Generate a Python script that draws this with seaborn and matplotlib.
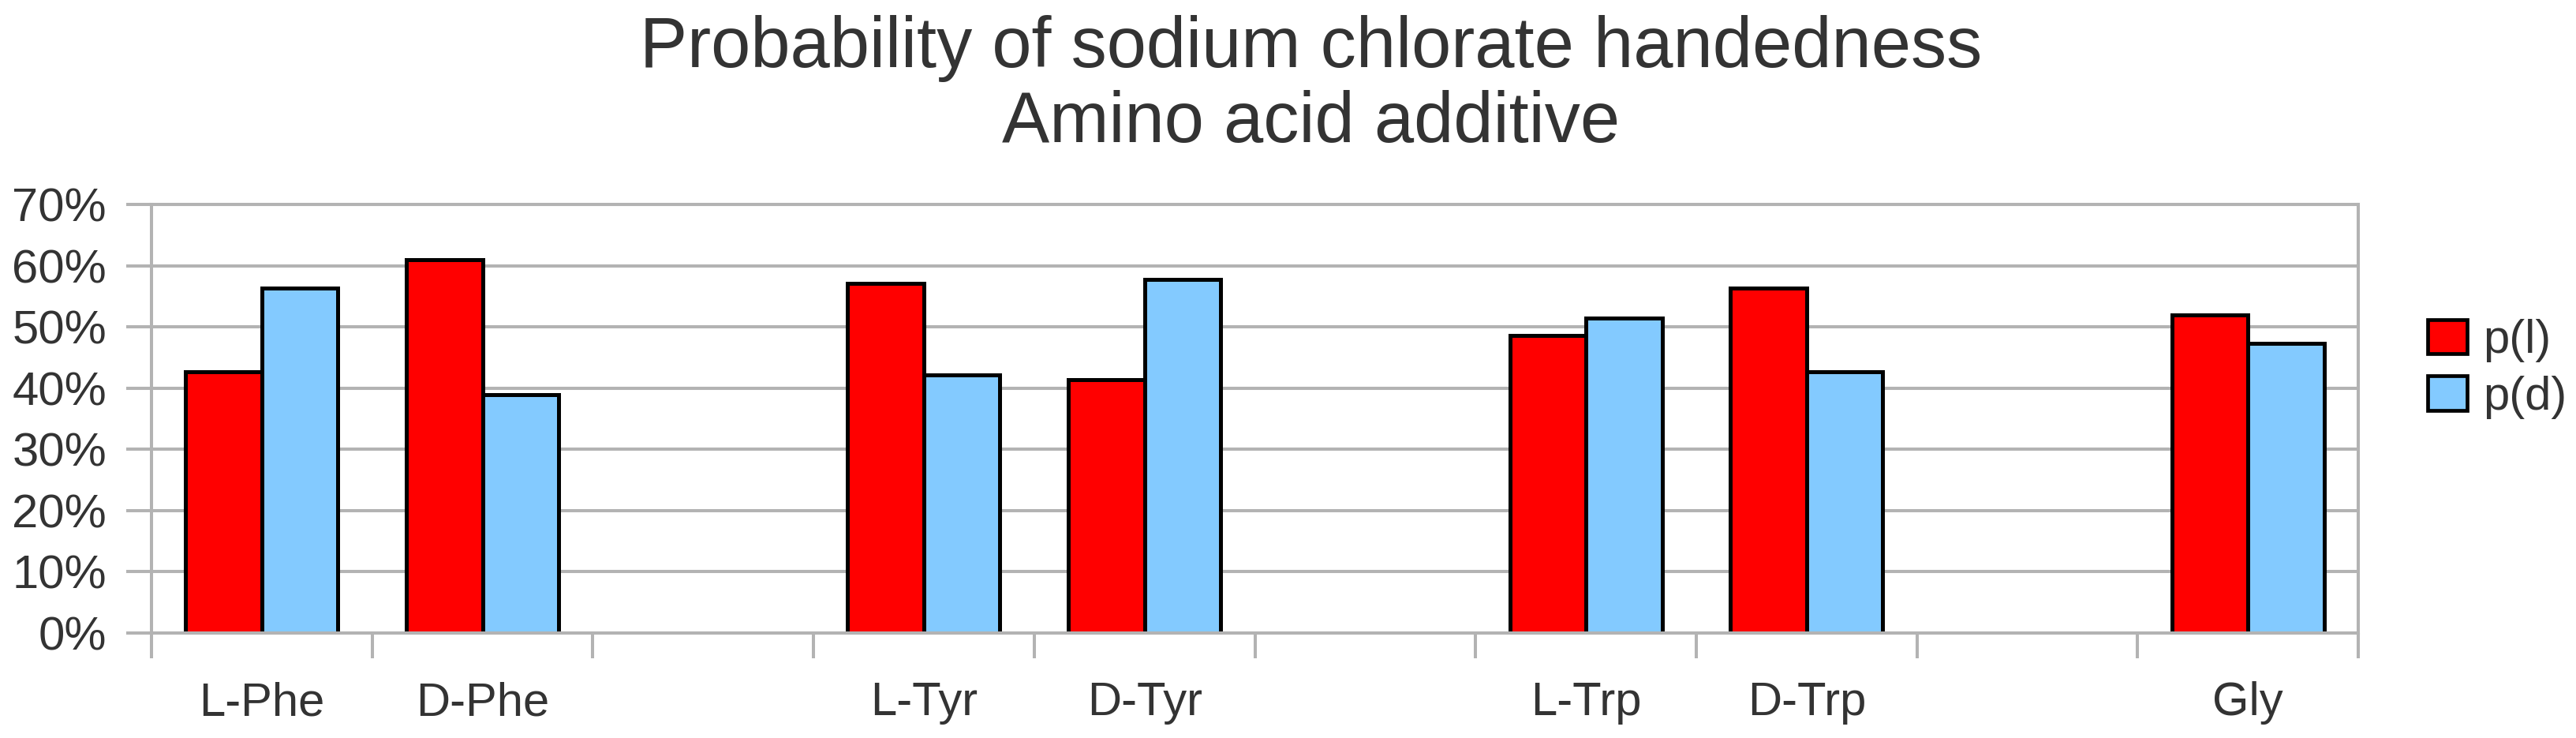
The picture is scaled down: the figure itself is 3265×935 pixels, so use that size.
import matplotlib
matplotlib.use("Agg")
import matplotlib.pyplot as plt
import seaborn as sns
import pandas as pd
import numpy as np
from matplotlib.patches import Patch
from matplotlib.ticker import FixedLocator, FixedFormatter, NullFormatter

# ---- data ----
categories = ["L-Phe", "D-Phe", "L-Tyr", "D-Tyr", "L-Trp", "D-Trp", "Gly"]
slot_order = ["L-Phe", "D-Phe", " ", "L-Tyr", "D-Tyr", "  ", "L-Trp", "D-Trp", "   ", "Gly"]
p_l = [0.427, 0.610, 0.571, 0.414, 0.486, 0.564, 0.519]
p_d = [0.564, 0.389, 0.422, 0.577, 0.514, 0.427, 0.473]
series = ["p(l)", "p(d)"]
colors = ["#FF0000", "#83CAFF"]
y_ticks = [0.0, 0.1, 0.2, 0.3, 0.4, 0.5, 0.6, 0.7]
y_labels = ["0%", "10%", "20%", "30%", "40%", "50%", "60%", "70%"]
title = "Probability of sodium chlorate handedness\nAmino acid additive"

df = pd.DataFrame({
    "additive": categories * 2,
    "series": [series[0]] * len(categories) + [series[1]] * len(categories),
    "p": p_l + p_d,
})

sns.set_theme(style="white")
plt.rcParams["font.family"] = ["Liberation Sans", "DejaVu Sans"]
text_color = "#333333"
grid_color = "#b3b3b3"

fig = plt.figure(figsize=(32.65, 9.35), dpi=100)
ax = fig.add_axes([0.0588, 0.1422, 0.8567, 0.5808])
ax.set_axisbelow(True)

sns.barplot(data=df, x="additive", y="p", hue="series", order=slot_order,
            hue_order=series, palette=colors, width=0.69, gap=0,
            edgecolor="black", linewidth=3.6, saturation=1, legend=False,
            dodge=True, ax=ax)

ax.set_xlim(-0.5, len(slot_order) - 0.5)
ax.set_ylim(0, 0.7)
ax.set_xlabel("")
ax.set_ylabel("")

# y axis
ax.set_yticks(y_ticks)
ax.set_yticklabels(y_labels)
ax.yaxis.grid(True, color=grid_color, linewidth=2.9)
ax.xaxis.grid(False)

# x axis: boundary ticks (major) + centred labels (minor)
centers = [i for i, s in enumerate(slot_order) if s.strip()]
ax.xaxis.set_major_locator(FixedLocator(np.arange(-0.5, len(slot_order), 1.0)))
ax.xaxis.set_major_formatter(NullFormatter())
ax.xaxis.set_minor_locator(FixedLocator(centers))
ax.xaxis.set_minor_formatter(FixedFormatter([slot_order[i] for i in centers]))

ax.tick_params(axis="both", which="major", direction="out", length=23,
               width=2.9, color=grid_color, labelsize=43, labelcolor=text_color)
ax.tick_params(axis="y", which="major", pad=18, left=True)
ax.tick_params(axis="x", which="major", bottom=True)
ax.tick_params(axis="x", which="minor", length=0, pad=44, labelsize=43,
               labelcolor=text_color, bottom=True)

for side in ["left", "right", "top", "bottom"]:
    ax.spines[side].set_visible(True)
    ax.spines[side].set_color(grid_color)
    ax.spines[side].set_linewidth(2.9)

# legend
handles = [Patch(facecolor=c, edgecolor="black", linewidth=3.4, label=s)
           for c, s in zip(colors, series)]
fig.legend(handles=handles, loc="center left", bbox_to_anchor=(0.9425, 0.5),
           frameon=False, fontsize=43, handlelength=0.84, handleheight=0.75,
           handletextpad=0.33, labelspacing=0.27, labelcolor=text_color,
           borderpad=0, borderaxespad=0)

fig.suptitle(title, x=0.509, y=0.98, va="top", fontsize=65,
             color=text_color, linespacing=1.15)

fig.savefig("out.png", dpi=100)
